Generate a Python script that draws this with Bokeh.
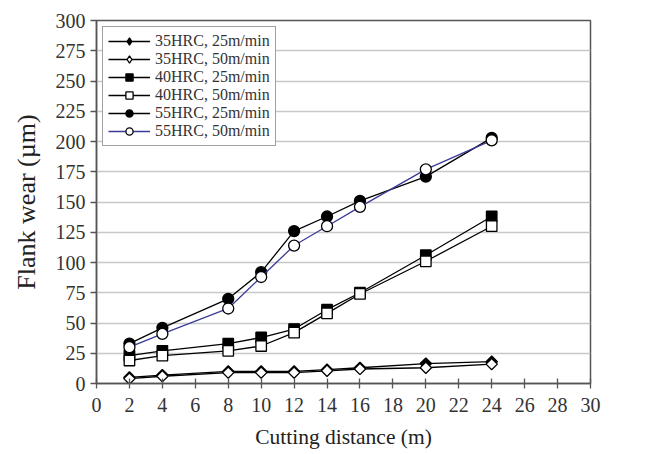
from bokeh.plotting import figure
from bokeh.models import Legend, LegendItem, FixedTicker, ColumnDataSource
from bokeh.embed import file_html
from bokeh.resources import INLINE
import math

# Data
distance = [2, 4, 8, 10, 12, 14, 16, 20, 24]
hrc35_25 = [5, 7, 10, 10, 10, 11.5, 13, 16.5, 18]
hrc35_50 = [4, 6, 9, 9, 9, 10.5, 12, 13, 16]
hrc40_25 = [23, 27, 33, 38, 45, 61, 75, 106, 138]
hrc40_50 = [19, 23, 27, 31, 42, 58, 74, 101, 130]
hrc55_25 = [33, 46, 70, 92, 126, 138, 151, 171, 203]
hrc55_50 = [30, 41, 62, 88, 114, 130, 146, 177, 201]

labels = ["35HRC, 25m/min", "35HRC, 50m/min", "40HRC, 25m/min",
          "40HRC, 50m/min", "55HRC, 25m/min", "55HRC, 50m/min"]
x_ticks = list(range(0, 31, 2))
y_ticks = list(range(0, 301, 25))

FONT = "Liberation Serif"

p = figure(width=665, height=454, output_backend="svg", toolbar_location=None,
           x_range=(0, 30), y_range=(0, 300),
           min_border_left=96, min_border_right=75, min_border_top=20, min_border_bottom=71)
p.outline_line_color = "#555555"
p.outline_line_width = 1.5
p.xgrid.grid_line_color = None
p.ygrid.grid_line_color = "#c8c8c8"
p.ygrid.grid_line_width = 1.3

p.xaxis.ticker = FixedTicker(ticks=x_ticks)
p.yaxis.ticker = FixedTicker(ticks=y_ticks)
for ax in (p.xaxis[0], p.yaxis[0]):
    ax.axis_line_color = "#555555"
    ax.axis_line_width = 1.5
    ax.major_tick_line_color = "#555555"
    ax.major_tick_line_width = 1.3
    ax.minor_tick_line_color = None
    ax.major_label_text_font = FONT
    ax.major_label_text_font_size = "20px"
    ax.major_label_text_color = "#333333"
    ax.axis_label_text_font = FONT
    ax.axis_label_text_font_style = "normal"
    ax.axis_label_text_color = "#222222"
p.xaxis.axis_label_text_font_size = "21.5px"
p.yaxis.axis_label_text_font_size = "26px"
p.xaxis.major_tick_in = 5
p.xaxis.major_tick_out = 5
p.yaxis.major_tick_in = 0
p.yaxis.major_tick_out = 6
p.xaxis.major_label_standoff = 9
p.yaxis.major_label_standoff = 5
p.xaxis.axis_label = "Cutting distance (m)"
p.yaxis.axis_label = "Flank wear (µm)"
p.xaxis.axis_label_standoff = 10
p.yaxis.axis_label_standoff = 12

series = [
    (hrc35_25, "black", "black", "diamond"),
    (hrc35_50, "white", "black", "diamond"),
    (hrc40_25, "black", "black", "square"),
    (hrc40_50, "white", "black", "square"),
    (hrc55_25, "black", "black", "circle"),
    (hrc55_50, "white", "#3a3a9a", "circle"),
]

items = []
for (vals, fill, lcol, kind), lab in zip(series, labels):
    src = ColumnDataSource(dict(x=distance, y=vals))
    r1 = p.line("x", "y", source=src, line_color=lcol, line_width=1.3)
    if kind == "diamond":
        r2 = p.scatter("x", "y", source=src, marker="square", size=8, angle=math.pi / 4,
                       fill_color=fill, line_color="black", line_width=1.3)
        # legend-only glyph placed outside the visible range
        r3 = p.scatter(x=[-100], y=[-100], marker="diamond", size=13,
                       fill_color=fill, line_color="black", line_width=1.3)
        rends = [r1, r3]
    else:
        r2 = p.scatter("x", "y", source=src, marker=kind, size=11 if kind == "circle" else 10.5,
                       fill_color=fill, line_color="black", line_width=1.3)
        rends = [r1, r2]
    items.append(LegendItem(label=lab, renderers=rends))

legend = Legend(items=items, location="top_left")
legend.margin = 6
legend.padding = 5
legend.spacing = 0
legend.glyph_width = 42
legend.glyph_height = 18
legend.label_height = 18
legend.label_standoff = 5
legend.label_text_font = FONT
legend.label_text_font_size = "16px"
legend.label_text_color = "#333333"
legend.border_line_color = "#444444"
legend.border_line_width = 1.5
legend.background_fill_alpha = 1
p.add_layout(legend)

open("out.html", "w").write(file_html(p, INLINE))
